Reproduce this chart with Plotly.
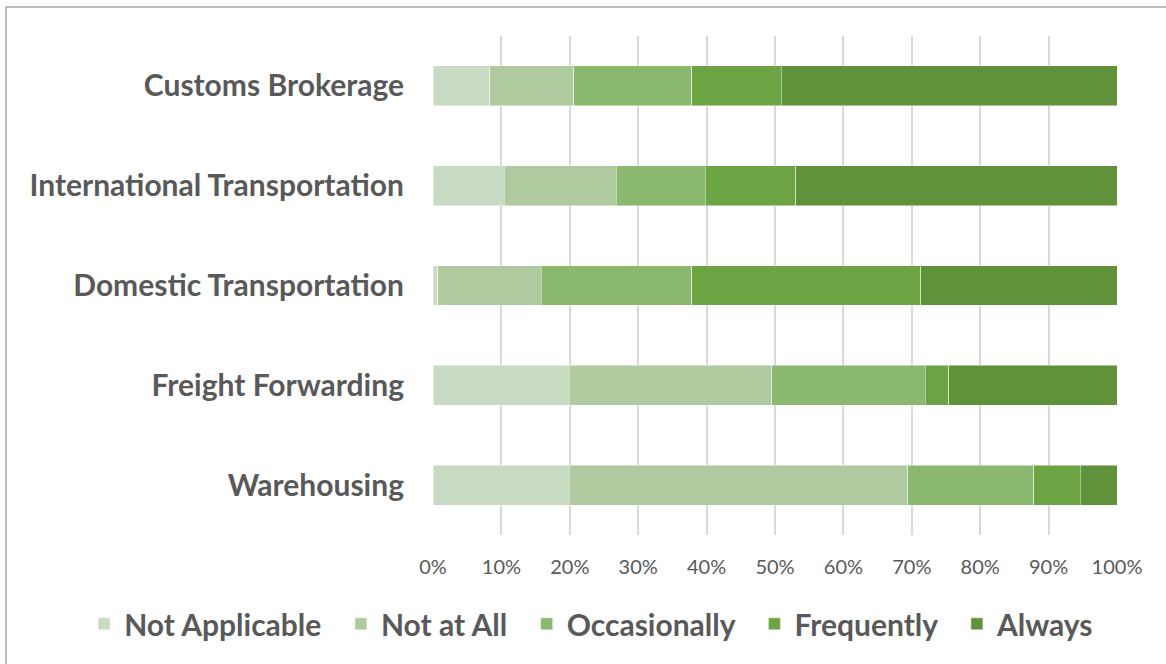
import plotly.graph_objects as go

categories = ["Customs Brokerage", "International Transportation", "Domestic Transportation",
              "Freight Forwarding", "Warehousing"]
series_names = ["Not Applicable", "Not at All", "Occasionally", "Frequently", "Always"]
not_applicable = [8.3, 10.4, 0.7, 19.9, 19.9]
not_at_all = [12.3, 16.4, 15.1, 29.6, 49.5]
occasionally = [17.2, 13.0, 22.0, 22.5, 18.4]
frequently = [13.1, 13.2, 33.5, 3.4, 6.8]
always = [49.1, 47.0, 28.7, 24.6, 5.4]
colors = ["#C9DAC2", "#AECA9E", "#8AB86F", "#6CA443", "#5F923B"]
tick_vals = [0, 0.1, 0.2, 0.3, 0.4, 0.5, 0.6, 0.7, 0.8, 0.9, 1.0]
tick_text = ["0%", "10%", "20%", "30%", "40%", "50%", "60%", "70%", "80%", "90%", "100%"]

series_values = [not_applicable, not_at_all, occasionally, frequently, always]

fig = go.Figure()
n = len(series_names)
for i, (name, vals, col) in enumerate(zip(series_names, series_values, colors)):
    # trailing non-breaking spaces widen the gap between legend entries
    label = name + ("\u00a0\u00a0" if i < n - 1 else "")
    fig.add_trace(go.Bar(
        y=categories, x=[v / 100 for v in vals], name=label, orientation="h",
        marker=dict(color=col, line=dict(color="rgba(255,255,255,0.6)", width=0.75)),
    ))

fig.update_layout(
    barmode="stack",
    bargap=0.6,
    width=1166, height=664,
    margin=dict(l=433, r=49, t=36, b=129),
    plot_bgcolor="white", paper_bgcolor="white",
    font=dict(family="Lato", color="#595959"),
    legend=dict(orientation="h", xref="paper", yref="paper",
                x=-0.51, xanchor="left", y=-0.178, yanchor="middle",
                font=dict(size=30, family="Lato", weight="bold", color="#595959"),
                traceorder="normal", itemwidth=30),
    shapes=[dict(type="rect", xref="paper", yref="paper",
                 x0=-0.6243, x1=1.08, y0=-0.3, y1=1.058,
                 line=dict(color="#A6A6A6", width=1.5), layer="below")],
)
fig.update_xaxes(range=[0, 1.0], tickvals=tick_vals, ticktext=tick_text,
                 showgrid=True, gridcolor="#D9D9D9", gridwidth=2,
                 zeroline=False, showline=False,
                 tickfont=dict(size=20, family="Lato", color="#595959"),
                 ticklabelstandoff=18)
fig.update_yaxes(autorange="reversed", showgrid=False, zeroline=False, showline=False,
                 tickfont=dict(size=30, family="Lato", weight="bold", color="#595959"),
                 ticklabelstandoff=28)

fig.write_html("out.html", config={"displayModeBar": False},
               post_script="document.body.style.margin='0';document.body.style.overflow='hidden';")
